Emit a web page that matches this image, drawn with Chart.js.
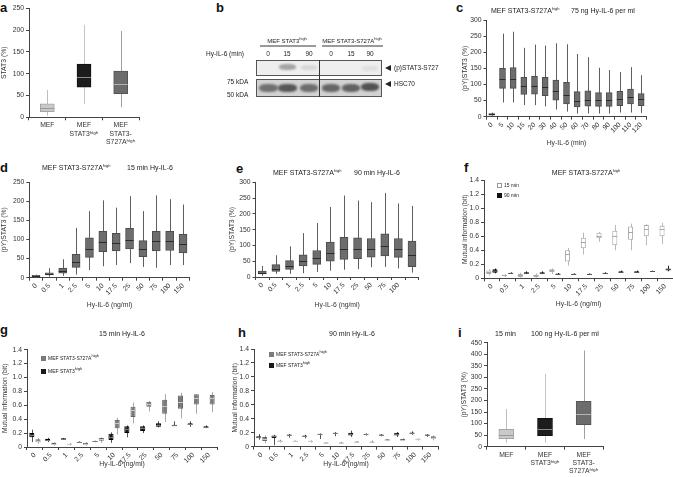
<!DOCTYPE html>
<html><head><meta charset="utf-8">
<script src="https://cdn.jsdelivr.net/npm/chart.js@4"></script>
<style>
html,body{margin:0;padding:0;background:#fff;}
#fig{position:relative;width:673px;height:477px;overflow:hidden;font-family:"Liberation Sans",Arial,sans-serif;color:#222;}
#fig canvas{position:absolute;}
.t{position:absolute;white-space:nowrap;font-size:7px;line-height:7px;color:#222;will-change:transform;-webkit-font-smoothing:antialiased;}
.c{transform:translateX(-50%);}
.L{position:absolute;font-weight:bold;font-size:13px;line-height:13px;color:#111;}
sup{font-size:4px;vertical-align:3px;line-height:0;}
.sq{position:absolute;width:5px;height:5px;box-sizing:border-box;}
.blot{position:absolute;box-sizing:border-box;border:1px solid #555;}
.band{position:absolute;border-radius:40%;filter:blur(1px);}
.arr{position:absolute;width:0;height:0;border-top:3px solid transparent;border-bottom:3px solid transparent;border-right:6px solid #222;}
</style></head><body><div id="fig">
<!-- panel letters -->
<div class="L" style="left:0;top:1px">a</div>
<div class="L" style="left:216px;top:1px">b</div>
<div class="L" style="left:456px;top:1px">c</div>
<div class="L" style="left:0;top:161px">d</div>
<div class="L" style="left:236px;top:162px">e</div>
<div class="L" style="left:464px;top:161px">f</div>
<div class="L" style="left:0;top:323px">g</div>
<div class="L" style="left:238px;top:326px">h</div>
<div class="L" style="left:458px;top:326px">i</div>

<!-- titles -->
<div class="t" style="left:491px;top:7px">MEF STAT3-S727A<sup>high</sup></div>
<div class="t" style="left:571px;top:7px">75 ng Hy-IL-6 per ml</div>
<div class="t" style="left:42px;top:164px">MEF STAT3-S727A<sup>high</sup></div>
<div class="t" style="left:127px;top:164px">15 min Hy-IL-6</div>
<div class="t" style="left:273px;top:169px">MEF STAT3-S727A<sup>high</sup></div>
<div class="t" style="left:354px;top:169px">90 min Hy-IL-6</div>
<div class="t c" style="left:586px;top:169px">MEF STAT3-S727A<sup>high</sup></div>
<div class="t c" style="left:122px;top:330px">15 min Hy-IL-6</div>
<div class="t c" style="left:352px;top:330px">90 min Hy-IL-6</div>
<div class="t" style="left:495px;top:330px">15 min</div>
<div class="t" style="left:531px;top:330px">100 ng Hy-IL-6 per ml</div>

<!-- legends -->
<div class="sq" style="left:497px;top:183px;border:1px solid #999;background:#fff"></div>
<div class="t" style="left:504px;top:183px;font-size:5px;line-height:5px">15 min</div>
<div class="sq" style="left:497px;top:193px;background:#111"></div>
<div class="t" style="left:504px;top:193px;font-size:5px;line-height:5px">90 min</div>
<div class="sq" style="left:41px;top:356px;background:#7a7a7a"></div>
<div class="t" style="left:48px;top:356px;font-size:5px;line-height:5px">MEF STAT3-S727A<sup>high</sup></div>
<div class="sq" style="left:41px;top:369px;background:#1a1a1a"></div>
<div class="t" style="left:48px;top:369px;font-size:5px;line-height:5px">MEF STAT3<sup>high</sup></div>
<div class="sq" style="left:269px;top:352px;background:#7a7a7a"></div>
<div class="t" style="left:276px;top:352px;font-size:5px;line-height:5px">MEF STAT3-S727A<sup>high</sup></div>
<div class="sq" style="left:269px;top:363px;background:#1a1a1a"></div>
<div class="t" style="left:276px;top:363px;font-size:5px;line-height:5px">MEF STAT3<sup>high</sup></div>

<!-- panel b: western blot -->
<div class="t c" style="left:287px;top:38px;font-size:6px;line-height:6px">MEF STAT3<sup>high</sup></div>
<div class="t c" style="left:352px;top:38px;font-size:6px;line-height:6px">MEF STAT3-S727A<sup>high</sup></div>
<div style="position:absolute;left:260px;top:45px;width:56px;height:2px;background:#9a9a9a"></div>
<div style="position:absolute;left:322px;top:45px;width:61px;height:2px;background:#9a9a9a"></div>
<div class="t" style="left:206px;top:51px;font-size:6.5px;line-height:6.5px">Hy-IL-6 (min)</div>
<div class="t c" style="left:268px;top:51px;font-size:6.5px;line-height:6.5px">0</div>
<div class="t c" style="left:287px;top:51px;font-size:6.5px;line-height:6.5px">15</div>
<div class="t c" style="left:309px;top:51px;font-size:6.5px;line-height:6.5px">90</div>
<div class="t c" style="left:331px;top:51px;font-size:6.5px;line-height:6.5px">0</div>
<div class="t c" style="left:351px;top:51px;font-size:6.5px;line-height:6.5px">15</div>
<div class="t c" style="left:370px;top:51px;font-size:6.5px;line-height:6.5px">90</div>
<div class="blot" style="left:256px;top:60px;width:126px;height:16px;background:#eeeeee"></div>
<div class="band" style="left:279px;top:64px;width:17px;height:6px;background:rgba(90,90,90,0.5)"></div>
<div class="band" style="left:301px;top:65px;width:16px;height:5px;background:rgba(120,120,120,0.2)"></div>
<div class="band" style="left:362px;top:66px;width:16px;height:5px;background:rgba(120,120,120,0.12)"></div>
<div class="blot" style="left:256px;top:79px;width:126px;height:18px;background:#d2d2d2"></div>
<div class="band" style="left:259px;top:84px;width:19px;height:8px;background:rgba(70,70,70,0.7)"></div>
<div class="band" style="left:278px;top:84px;width:19px;height:8px;background:rgba(55,55,55,0.8)"></div>
<div class="band" style="left:300px;top:84px;width:18px;height:8px;background:rgba(65,65,65,0.7)"></div>
<div class="band" style="left:322px;top:84px;width:18px;height:8px;background:rgba(65,65,65,0.75)"></div>
<div class="band" style="left:342px;top:84px;width:18px;height:8px;background:rgba(60,60,60,0.75)"></div>
<div class="band" style="left:361px;top:83px;width:18px;height:8px;background:rgba(50,50,50,0.8)"></div>
<div style="position:absolute;left:319px;top:60px;width:1px;height:37px;background:#333"></div>
<div class="t" style="left:227px;top:79px;font-size:6.5px;line-height:6.5px">75 kDA</div>
<div class="t" style="left:227px;top:92px;font-size:6.5px;line-height:6.5px">50 kDA</div>
<div class="arr" style="left:385px;top:65px"></div>
<div class="t" style="left:394px;top:65px;font-size:6.5px;line-height:6.5px">(p)STAT3-S727</div>
<div class="arr" style="left:385px;top:81px"></div>
<div class="t" style="left:394px;top:81px;font-size:6.5px;line-height:6.5px">HSC70</div>
</div>
<script>
// ---------- DATA ----------
// a: STAT3 (%)
const aLabels = [['MEF'], ['MEF', 'STAT3ʰⁱᵍʰ'], ['MEF', 'STAT3-', 'S727Aʰⁱᵍʰ']];
const aMin = [4, 30, 23];
const aQ1 = [13, 69, 54];
const aMed = [21, 92, 76];
const aQ3 = [31, 122, 106];
const aMax = [63, 212, 198];

// c: time course, 75 ng/ml
const cLabels = ['0', '5', '10', '15', '20', '30', '40', '50', '60', '70', '80', '90', '100', '110', '120'];
const cMin = [3, 44, 44, 36, 36, 32, 22, 16, 10, 10, 10, 10, 13, 13, 12];
const cQ1 = [5, 88, 88, 69, 70, 65, 51, 40, 30, 33, 32, 32, 34, 40, 34];
const cMed = [8, 117, 117, 95, 95, 92, 80, 67, 49, 52, 52, 52, 55, 61, 54];
const cQ3 = [10, 150, 153, 122, 126, 122, 114, 107, 78, 80, 75, 75, 79, 86, 72];
const cMax = [13, 258, 264, 214, 224, 221, 228, 225, 195, 185, 152, 145, 139, 154, 129];

// d: dose, 15 min
const doseLabels = ['0', '0.5', '1', '2.5', '5', '10', '17.5', '25', '50', '75', '100', '150'];
const dMin = [1, 3, 5, 8, 20, 30, 33, 38, 28, 26, 33, 33];
const dQ1 = [3, 7, 12, 27, 53, 68, 70, 75, 55, 70, 71, 65];
const dMed = [5, 10, 18, 42, 76, 94, 90, 98, 76, 95, 95, 87];
const dQ3 = [6, 13, 25, 61, 104, 121, 116, 129, 97, 121, 121, 113];
const dMax = [8, 25, 48, 130, 174, 202, 183, 213, 174, 215, 205, 191];

// e: dose, 90 min (last category unlabeled)
const eLabels = ['0', '0.5', '1', '2.5', '5', '10', '17.5', '25', '50', '75', '100', ''];
const eMin = [4, 10, 10, 12, 16, 20, 23, 25, 31, 32, 27, 14];
const eQ1 = [10, 18, 24, 35, 40, 50, 56, 58, 63, 67, 62, 33];
const eMed = [14, 26, 35, 51, 61, 76, 88, 88, 89, 98, 89, 69];
const eQ3 = [19, 39, 52, 70, 84, 111, 126, 124, 122, 137, 122, 114];
const eMax = [35, 69, 97, 139, 171, 222, 258, 242, 237, 266, 233, 225];

// f: mutual information, S727A, 15 vs 90 min
const f15Min = [0.04, 0.02, 0.01, 0.01, 0.06, 0.18, 0.34, 0.52, 0.40, 0.40, 0.47, 0.49];
const f15Q1 = [0.06, 0.03, 0.02, 0.02, 0.09, 0.24, 0.43, 0.57, 0.47, 0.55, 0.60, 0.60];
const f15Med = [0.09, 0.04, 0.04, 0.04, 0.12, 0.34, 0.52, 0.61, 0.60, 0.66, 0.70, 0.70];
const f15Q3 = [0.11, 0.05, 0.06, 0.05, 0.13, 0.40, 0.58, 0.65, 0.68, 0.74, 0.76, 0.75];
const f15Max = [0.13, 0.06, 0.08, 0.07, 0.14, 0.43, 0.65, 0.66, 0.76, 0.78, 0.77, 0.79];
const f90Min = [0.07, 0.065, 0.06, 0.06, 0.06, 0.055, 0.055, 0.06, 0.08, 0.08, 0.09, 0.10];
const f90Q1 = [0.08, 0.07, 0.075, 0.075, 0.06, 0.055, 0.055, 0.065, 0.09, 0.085, 0.095, 0.11];
const f90Med = [0.11, 0.075, 0.08, 0.08, 0.065, 0.06, 0.06, 0.07, 0.095, 0.09, 0.10, 0.13];
const f90Q3 = [0.13, 0.08, 0.085, 0.085, 0.07, 0.065, 0.065, 0.08, 0.10, 0.10, 0.105, 0.14];
const f90Max = [0.14, 0.085, 0.10, 0.10, 0.075, 0.07, 0.07, 0.085, 0.11, 0.11, 0.11, 0.18];

// g: mutual information, 15 min (B = STAT3high, G = S727Ahigh)
const gBMin = [0.07, 0.07, 0.11, 0.06, 0.07, 0.06, 0.14, 0.20, 0.28, 0.30, 0.29, 0.27];
const gBQ1 = [0.14, 0.09, 0.115, 0.065, 0.075, 0.10, 0.20, 0.23, 0.29, 0.30, 0.32, 0.28];
const gBMed = [0.17, 0.10, 0.12, 0.07, 0.08, 0.14, 0.26, 0.27, 0.32, 0.31, 0.33, 0.29];
const gBQ3 = [0.20, 0.12, 0.125, 0.075, 0.085, 0.19, 0.30, 0.30, 0.34, 0.32, 0.34, 0.30];
const gBMax = [0.25, 0.13, 0.13, 0.08, 0.09, 0.21, 0.31, 0.31, 0.37, 0.37, 0.37, 0.31];
const gGMin = [0.05, 0.02, 0.02, 0.02, 0.06, 0.18, 0.34, 0.51, 0.36, 0.41, 0.48, 0.50];
const gGQ1 = [0.07, 0.04, 0.035, 0.03, 0.09, 0.27, 0.43, 0.58, 0.48, 0.55, 0.61, 0.61];
const gGMed = [0.09, 0.05, 0.04, 0.05, 0.12, 0.34, 0.53, 0.62, 0.59, 0.65, 0.70, 0.70];
const gGQ3 = [0.11, 0.06, 0.045, 0.06, 0.13, 0.39, 0.58, 0.65, 0.68, 0.74, 0.76, 0.75];
const gGMax = [0.13, 0.07, 0.06, 0.07, 0.14, 0.42, 0.64, 0.66, 0.76, 0.78, 0.76, 0.79];

// h: mutual information, 90 min
const hBMin = [0.10, 0.02, 0.13, 0.12, 0.11, 0.15, 0.14, 0.16, 0.15, 0.14, 0.17, 0.14];
const hBQ1 = [0.12, 0.12, 0.165, 0.15, 0.175, 0.19, 0.16, 0.175, 0.165, 0.16, 0.19, 0.165];
const hBMed = [0.14, 0.15, 0.17, 0.155, 0.18, 0.195, 0.18, 0.18, 0.17, 0.18, 0.20, 0.17];
const hBQ3 = [0.15, 0.16, 0.175, 0.16, 0.185, 0.20, 0.20, 0.185, 0.175, 0.20, 0.205, 0.175];
const hBMax = [0.18, 0.17, 0.18, 0.17, 0.19, 0.21, 0.23, 0.19, 0.18, 0.21, 0.22, 0.18];
const hGMin = [0.05, 0.06, 0.07, 0.06, 0.055, 0.04, 0.06, 0.05, 0.08, 0.08, 0.09, 0.09];
const hGQ1 = [0.08, 0.07, 0.075, 0.075, 0.058, 0.055, 0.065, 0.065, 0.09, 0.09, 0.10, 0.11];
const hGMed = [0.11, 0.08, 0.08, 0.08, 0.06, 0.06, 0.07, 0.07, 0.10, 0.10, 0.11, 0.13];
const hGQ3 = [0.14, 0.09, 0.085, 0.085, 0.062, 0.065, 0.075, 0.075, 0.105, 0.11, 0.115, 0.15];
const hGMax = [0.16, 0.10, 0.09, 0.09, 0.065, 0.07, 0.08, 0.09, 0.11, 0.12, 0.12, 0.16];

// i: 15 min, 100 ng/ml
const iLabels = [['MEF'], ['MEF', 'STAT3ʰⁱᵍʰ'], ['MEF', 'STAT3-', 'S727Aʰⁱᵍʰ']];
const iMin = [17, 17, 33];
const iQ1 = [35, 48, 95];
const iMed = [49, 75, 140];
const iQ3 = [75, 123, 196];
const iMax = [163, 315, 416];

// ---------- RENDERING ----------
const FONT = '"Liberation Sans", Arial, sans-serif';
const AX = '#444';
const TXT = '#333';
const FS = 6.8;

const pick = (v, i) => Array.isArray(v) ? v[i] : v;
const boxPlugin = {
  id: 'boxWhisker',
  beforeDatasetsDraw(chart) {
    const ctx = chart.ctx, ys = chart.scales.y;
    chart.data.datasets.forEach((ds, di) => {
      if (!ds.stats) return;
      chart.getDatasetMeta(di).data.forEach((el, i) => {
        const x = Math.round(el.x) + 0.5;
        ctx.save();
        ctx.strokeStyle = pick(ds.whiskerColor, i);
        ctx.lineWidth = 1;
        ctx.beginPath();
        ctx.moveTo(x, ys.getPixelForValue(ds.stats.min[i]));
        ctx.lineTo(x, ys.getPixelForValue(ds.stats.max[i]));
        ctx.stroke();
        ctx.restore();
      });
    });
  },
  afterDatasetsDraw(chart) {
    const ctx = chart.ctx, ys = chart.scales.y;
    chart.data.datasets.forEach((ds, di) => {
      if (!ds.stats) return;
      chart.getDatasetMeta(di).data.forEach((el, i) => {
        const y = Math.round(ys.getPixelForValue(ds.stats.med[i])) + 0.5;
        ctx.save();
        ctx.strokeStyle = pick(ds.medianColor, i);
        ctx.lineWidth = 1;
        ctx.beginPath();
        ctx.moveTo(el.x - el.width / 2, y);
        ctx.lineTo(el.x + el.width / 2, y);
        ctx.stroke();
        ctx.restore();
      });
    });
  }
};

function boxSet(q1, q3, min, med, max, st) {
  return Object.assign({
    data: q1.map((v, i) => [v, Math.max(q3[i], v + 0.0001)]),
    stats: { min: min, med: med, max: max },
    borderWidth: 1,
    borderSkipped: false
  }, st);
}

function makeBoxChart(o) {
  const cv = document.createElement('canvas');
  cv.width = o.rect.w; cv.height = o.rect.h;
  cv.style.left = o.rect.x + 'px'; cv.style.top = o.rect.y + 'px';
  cv.style.width = o.rect.w + 'px'; cv.style.height = o.rect.h + 'px';
  document.getElementById('fig').appendChild(cv);
  const lh = FS * 1.2;
  const padL = Math.max(0, o.yTitleX - o.rect.x - lh / 2);
  const yW = o.area.l - o.rect.x - padL;
  const padT = o.area.t - o.rect.y;
  const padR = o.rect.x + o.rect.w - o.area.r;
  const padB = o.xTitle ? (o.rect.y + o.rect.h - (o.xTitleY + lh / 2)) : 0;
  const xH = o.rect.y + o.rect.h - padB - o.area.b;
  const font = { family: FONT, size: FS, lineHeight: 1.22 };
  return new Chart(cv, {
    type: 'bar',
    data: { labels: o.labels, datasets: o.datasets },
    options: {
      responsive: false, animation: false, devicePixelRatio: 1,
      layout: { padding: { left: padL, right: padR, top: padT, bottom: padB } },
      plugins: { legend: { display: false }, tooltip: { enabled: false } },
      scales: {
        x: {
          type: 'category', offset: true,
          grid: { drawOnChartArea: false, tickLength: 3, color: AX, lineWidth: 1 },
          border: { color: AX, width: 1 },
          ticks: { font: font, color: TXT, autoSkip: false, maxRotation: o.rot, minRotation: o.rot, padding: 1 },
          title: { display: !!o.xTitle, text: o.xTitle || '', font: { family: FONT, size: FS }, color: TXT, padding: 0 },
          afterFit: s => { s.height = xH; }
        },
        y: {
          min: 0, max: o.yMax,
          grid: { drawOnChartArea: false, tickLength: 3, color: AX, lineWidth: 1 },
          border: { color: AX, width: 1 },
          ticks: { stepSize: o.yStep, font: font, color: TXT, padding: 2, callback: o.yFmt || (v => v) },
          title: { display: true, text: o.yTitle, font: { family: FONT, size: FS }, color: TXT, padding: 0 },
          afterFit: s => { s.width = yW; }
        }
      }
    },
    plugins: [boxPlugin]
  });
}

const miFmt = v => (Math.abs(v) < 1e-9 ? '0' : v.toFixed(1));
const GRAY = { backgroundColor: '#6d6d6d', borderColor: '#4d4d4d', whiskerColor: '#5e5e5e', medianColor: '#2a2a2a' };
const TRIO = {
  backgroundColor: ['#c9c9c9', '#1c1c1c', '#6c6c6c'],
  borderColor: ['#a5a5a5', '#111111', '#555555'],
  whiskerColor: ['#bdbdbd', '#c4c4c4', '#a0a0a0'],
  medianColor: ['#9a9a9a', '#8a8a8a', '#b5b5b5']
};

// a
makeBoxChart({
  rect: { x: 0, y: 0, w: 150, h: 150 }, area: { l: 29, r: 139, t: 8.3, b: 117.3 },
  yTitleX: 4, labels: aLabels, rot: 0, yMax: 250, yStep: 50, yTitle: 'STAT3 (%)',
  datasets: [boxSet(aQ1, aQ3, aMin, aMed, aMax, Object.assign({ barThickness: 14 }, TRIO))]
});
// c
makeBoxChart({
  rect: { x: 455, y: 14, w: 200, h: 136 }, area: { l: 486.5, r: 646.5, t: 20, b: 116.7 },
  yTitleX: 465, xTitle: 'Hy-IL-6 (min)', xTitleY: 143, labels: cLabels, rot: 45,
  yMax: 300, yStep: 50, yTitle: '(pY)STAT3 (%)',
  datasets: [boxSet(cQ1, cQ3, cMin, cMed, cMax, Object.assign({ barThickness: 6 }, GRAY))]
});
// d
makeBoxChart({
  rect: { x: 0, y: 174, w: 200, h: 140 }, area: { l: 29.3, r: 189.7, t: 182, b: 277.7 },
  yTitleX: 4.5, xTitle: 'Hy-IL-6 (ng/ml)', xTitleY: 305, labels: doseLabels, rot: 45,
  yMax: 250, yStep: 50, yTitle: '(pY)STAT3 (%)',
  datasets: [boxSet(dQ1, dQ3, dMin, dMed, dMax, Object.assign({ barThickness: 8 }, GRAY))]
});
// e
makeBoxChart({
  rect: { x: 225, y: 176, w: 205, h: 140 }, area: { l: 255.5, r: 418.8, t: 182.3, b: 277 },
  yTitleX: 232, xTitle: 'Hy-IL-6 (ng/ml)', xTitleY: 305, labels: eLabels, rot: 45,
  yMax: 300, yStep: 50, yTitle: '(pY)STAT3 (%)',
  datasets: [boxSet(eQ1, eQ3, eMin, eMed, eMax, Object.assign({ barThickness: 8 }, GRAY))]
});
// f
makeBoxChart({
  rect: { x: 455, y: 174, w: 230, h: 140 }, area: { l: 484, r: 673, t: 180, b: 278.3 },
  yTitleX: 465, xTitle: 'Hy-IL-6 (ng/ml)', xTitleY: 304, labels: doseLabels, rot: 45,
  yMax: 1.4, yStep: 0.2, yTitle: 'Mutual information (bit)', yFmt: miFmt,
  datasets: [
    boxSet(f15Q1, f15Q3, f15Min, f15Med, f15Max, { categoryPercentage: 0.78, barPercentage: 0.82, backgroundColor: '#ffffff', borderColor: '#a8a8a8', whiskerColor: '#b8b8b8', medianColor: '#a8a8a8' }),
    boxSet(f90Q1, f90Q3, f90Min, f90Med, f90Max, { categoryPercentage: 0.78, barPercentage: 0.82, backgroundColor: '#151515', borderColor: '#000000', whiskerColor: '#333333', medianColor: '#555555' })
  ]
});
// g
const BLK = { categoryPercentage: 0.78, barPercentage: 0.82, backgroundColor: '#1a1a1a', borderColor: '#000000', whiskerColor: '#555555', medianColor: '#777777' };
const GRY = { categoryPercentage: 0.78, barPercentage: 0.82, backgroundColor: '#7a7a7a', borderColor: '#666666', whiskerColor: '#a8a8a8', medianColor: '#c8c8c8' };
makeBoxChart({
  rect: { x: 0, y: 340, w: 225, h: 137 }, area: { l: 27, r: 217, t: 349.7, b: 447 },
  yTitleX: 5, xTitle: 'Hy-IL-6 (ng/ml)', xTitleY: 464, labels: doseLabels, rot: 45,
  yMax: 1.4, yStep: 0.2, yTitle: 'Mutual information (bit)', yFmt: miFmt,
  datasets: [
    boxSet(gBQ1, gBQ3, gBMin, gBMed, gBMax, BLK),
    boxSet(gGQ1, gGQ3, gGMin, gGMed, gGMax, GRY)
  ]
});
// h
makeBoxChart({
  rect: { x: 225, y: 340, w: 225, h: 137 }, area: { l: 254, r: 438, t: 349, b: 446.7 },
  yTitleX: 235, xTitle: 'Hy-IL-6 (ng/ml)', xTitleY: 464, labels: doseLabels, rot: 45,
  yMax: 1.4, yStep: 0.2, yTitle: 'Mutual information (bit)', yFmt: miFmt,
  datasets: [
    boxSet(hBQ1, hBQ3, hBMin, hBMed, hBMax, BLK),
    boxSet(hGQ1, hGQ3, hGMin, hGMed, hGMax, GRY)
  ]
});
// i
makeBoxChart({
  rect: { x: 455, y: 336, w: 218, h: 141 }, area: { l: 487, r: 603, t: 342.7, b: 446.7 },
  yTitleX: 464, labels: iLabels, rot: 0, yMax: 450, yStep: 50, yTitle: '(pY)STAT3 (%)',
  datasets: [boxSet(iQ1, iQ3, iMin, iMed, iMax, Object.assign({ barThickness: 15 }, TRIO))]
});
</script>
</body></html>
